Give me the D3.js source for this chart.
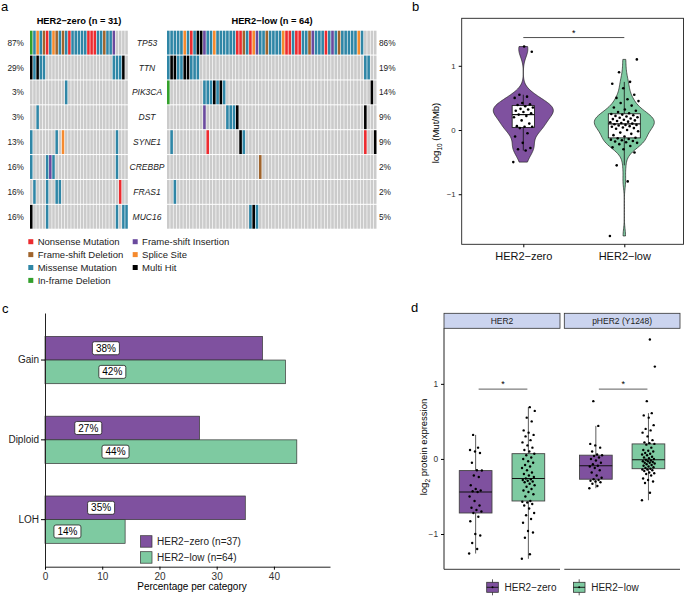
<!DOCTYPE html>
<html>
<head>
<meta charset="utf-8">
<script src="https://cdn.jsdelivr.net/npm/d3@7"></script>
<style>
body { margin: 0; background: #fff; }
svg { font-family: "Liberation Sans", Arial, sans-serif; }
</style>
</head>
<body>
<svg id="fig" width="685" height="596"></svg>
<script>
// panel a: oncoprint, one string per gene, one char per sample (spaces are only for counting)
var genes = ["TP53", "TTN", "PIK3CA", "DST", "SYNE1", "CREBBP", "FRAS1", "MUC16"];
var zeroPct = ["87%", "29%", "3%", "3%", "13%", "16%", "16%", "16%"];
var lowPct = ["86%", "19%", "14%", "9%", "9%", "2%", "2%", "5%"];
var zeroMut = [
  "IMPMDNMPDM DMNMMMMMNN NMMDMMS... .",
  "HMHMM..... .......... ......MMMH .",
  ".......... .M........ .......... .",
  "..M....... .......... .......... .",
  "M.......M. P......... .......M.. .",
  "M....MSM.. .......... .......M.. .",
  ".M...M..MM .......... ........N. .",
  "H....M.... .......... .......M.M M"
];
var lowMut = [
  "MMMMMPMNMH HSMMPMMMMM MNNDMNPSMM DMMMMPNNMN NMMDSMMMNM SMDMMMMMPM ....",
  "MHHMMHHMMM .......... .......... .......... .......... .......... MM..",
  "I......... .MMMHMHM.. .......... .......... .......... .......... ..H.",
  ".......... .S......MM MH........ .......... .......... .......... H...",
  ".M........ ..N....... ..HM...... .......... .......... .......... N..H",
  ".......... .......... ........D. .......... .......... .......... ....",
  "..M....... .......... .......... .......... .......... .......... ....",
  ".......... .......... .....MHM.. .......... .......... .......... ...."
];
var mutCodes = ["N", "D", "M", "I", "S", "P", "H"];
var mutNames = ["Nonsense Mutation", "Frame-shift Deletion", "Missense Mutation", "In-frame Deletion",
  "Frame-shift Insertion", "Splice Site", "Multi Hit"];
var mutColors = ["#ec2b2f", "#a0642c", "#2f86a6", "#33a02c", "#6a4a9e", "#f58a2e", "#000000"];

// panel b: log10 TMB per sample
var groups = ["HER2−zero", "HER2−low"];
var tmbZero = [-0.5, -0.32, -0.3, -0.28, -0.2, -0.1, -0.05, 0.03, 0.05, 0.05, 0.06, 0.1, 0.15, 0.2, 0.22,
  0.24, 0.26, 0.28, 0.3, 0.32, 0.33, 0.35, 0.37, 0.39, 0.4, 0.42, 0.5, 0.52, 0.55, 1.22, 1.3];
var tmbLow = [-1.65, -0.8, -0.55, -0.35, -0.3, -0.27, -0.25, -0.22, -0.2, -0.19, -0.18, -0.17, -0.16, -0.15, -0.14, -0.13,
  -0.12, -0.1, -0.08, -0.06, -0.04, -0.02, 0.0, 0.02, 0.03, 0.04, 0.05, 0.06, 0.07, 0.08, 0.08, 0.09,
  0.1, 0.11, 0.12, 0.13, 0.14, 0.15, 0.16, 0.17, 0.18, 0.19, 0.2, 0.21, 0.22, 0.23, 0.24, 0.25,
  0.26, 0.28, 0.3, 0.32, 0.35, 0.38, 0.42, 0.45, 0.48, 0.5, 0.55, 0.65, 0.72, 0.75, 0.9, 1.1];

// panel c: copy number categories (%)
var cnvCats = ["Gain", "Diploid", "LOH"];
var cnvZero = [38, 27, 35];
var cnvLow = [42, 44, 14];
var cnvLegend = ["HER2−zero (n=37)", "HER2−low (n=64)"];
var cnvTicks = [0, 10, 20, 30, 40];

// panel d: log2 protein expression
var facets = ["HER2", "pHER2 (Y1248)"];
var her2Zero = [-1.26, -1.2, -1.12, -1.02, -1.0, -0.83, -0.77, -0.72, -0.7, -0.68, -0.65, -0.62, -0.56, -0.5, -0.44,
  -0.43, -0.42, -0.4, -0.35, -0.24, -0.22, -0.155, -0.15, -0.05, 0.08, 0.1, 0.12, 0.15, 0.32];
var her2Low = [-1.33, -1.27, -1.05, -0.98, -0.96, -0.85, -0.8, -0.75, -0.72, -0.66, -0.62, -0.6, -0.58, -0.57, -0.56,
  -0.5, -0.47, -0.44, -0.42, -0.4, -0.37, -0.35, -0.33, -0.31, -0.3, -0.29, -0.28, -0.27, -0.26, -0.24,
  -0.22, -0.2, -0.18, -0.15, -0.12, -0.1, -0.08, -0.05, -0.03, 0.0, 0.02, 0.05, 0.07, 0.1, 0.12,
  0.15, 0.18, 0.22, 0.25, 0.3, 0.32, 0.35, 0.38, 0.5, 0.55, 0.64, 0.69];
var pher2Zero = [-0.39, -0.36, -0.33, -0.31, -0.3, -0.29, -0.28, -0.27, -0.25, -0.22, -0.18, -0.15, -0.12, -0.1, -0.09,
  -0.07, -0.05, -0.02, 0.0, 0.02, 0.04, 0.05, 0.06, 0.1, 0.15, 0.18, 0.2, 0.44, 0.77];
var pher2Low = [-0.55, -0.45, -0.32, -0.3, -0.28, -0.26, -0.22, -0.2, -0.19, -0.18, -0.16, -0.15, -0.14, -0.14, -0.13,
  -0.12, -0.11, -0.1, -0.09, -0.08, -0.07, -0.06, -0.05, -0.05, -0.04, -0.03, -0.03, -0.02, -0.01, 0.0,
  0.01, 0.02, 0.03, 0.05, 0.06, 0.07, 0.08, 0.1, 0.11, 0.12, 0.15, 0.19, 0.2, 0.21, 0.22, 0.25,
  0.3, 0.35, 0.38, 0.4, 0.45, 0.55, 0.58, 0.61, 0.77, 1.23, 1.59];

var purple = "#7f519f";
var green = "#7ecaa1";
var groupColor = d3.scaleOrdinal().domain(groups).range([purple, green]);

var svg = d3.select("#fig");

function translate(x, y) {
  return "translate(" + x + "," + y + ")";
}

function jitter(i, amp) {
  return (((i * 0.6180339) % 1) - 0.5) * 2 * amp;
}

function boxStats(v) {
  var q1 = d3.quantile(v, 0.25), med = d3.quantile(v, 0.5), q3 = d3.quantile(v, 0.75);
  var iqr = q3 - q1;
  return {
    q1: q1, med: med, q3: q3,
    lo: d3.min(v.filter(function(d) { return d >= q1 - 1.5 * iqr; })),
    hi: d3.max(v.filter(function(d) { return d <= q3 + 1.5 * iqr; }))
  };
}

function panelLabel(t, x, y) {
  svg.append("text").attr("x", x).attr("y", y).attr("font-size", 13).text(t);
}

// ---------------- panel a
panelLabel("a", 1, 11);

var rowScale = d3.scaleBand().domain(genes).range([30.7, 228.7]).paddingInner(0.04);

var drawGrid = function(muts, x0, x1) {
  var rows = muts.map(function(s) { return s.replace(/ /g, ""); });
  var n = rows[0].length;
  var colScale = d3.scaleBand().domain(d3.range(n)).range([x0, x1]).paddingInner(0.2);
  var cells = [];
  rows.forEach(function(r, gi) {
    for (var i = 0; i < n; i++) cells.push({ gene: genes[gi], col: i, code: r[i] });
  });
  svg.append("g").selectAll("rect")
    .data(cells)
    .enter()
    .append("rect")
    .attr("x", function(d) { return colScale(d.col); })
    .attr("y", function(d) { return rowScale(d.gene); })
    .attr("width", colScale.bandwidth())
    .attr("height", rowScale.bandwidth())
    .attr("fill", function(d) {
      var k = mutCodes.indexOf(d.code);
      return k < 0 ? "#cbcbcb" : mutColors[k];
    });
};

drawGrid(zeroMut, 30, 127.8);
drawGrid(lowMut, 167, 376.5);

svg.append("text").attr("x", 79).attr("y", 24).attr("text-anchor", "middle")
  .attr("font-size", 9.3).attr("font-weight", "bold").text("HER2−zero (n = 31)");
svg.append("text").attr("x", 272).attr("y", 24).attr("text-anchor", "middle")
  .attr("font-size", 9.3).attr("font-weight", "bold").text("HER2−low (n = 64)");

var rowLabels = svg.append("g").selectAll("g")
  .data(genes)
  .enter()
  .append("g")
  .attr("transform", function(d) { return translate(0, rowScale(d) + rowScale.bandwidth() / 2 + 3); });

rowLabels.append("text").attr("x", 24).attr("text-anchor", "end").attr("font-size", 8.3).attr("fill", "#222")
  .text(function(d, i) { return zeroPct[i]; });
rowLabels.append("text").attr("x", 147).attr("text-anchor", "middle").attr("font-size", 8.5)
  .attr("font-style", "italic").attr("fill", "#222").text(function(d) { return d; });
rowLabels.append("text").attr("x", 379).attr("font-size", 8.3).attr("fill", "#222")
  .text(function(d, i) { return lowPct[i]; });

var legA = svg.append("g").selectAll("g")
  .data(mutNames)
  .enter()
  .append("g")
  .attr("transform", function(d, i) {
    return translate(i < 4 ? 28.3 : 132.7, 241.7 + (i % 4) * 12.9);
  });
legA.append("rect").attr("y", -2.5).attr("width", 5).attr("height", 5)
  .attr("fill", function(d, i) { return mutColors[i]; });
legA.append("text").attr("x", 9.4).attr("y", 3.4).attr("font-size", 9.5).attr("fill", "#222")
  .text(function(d) { return d; });

// ---------------- panel b
panelLabel("b", 412, 11);

var bLeft = 461.7, bRight = 683.5, bTop = 18.3, bBottom = 244.3;
var tmbScale = d3.scaleLinear().domain([-1.78, 1.74]).range([bBottom, bTop]);
var bX = d3.scalePoint().domain(groups).range([523.3, 624.3]);

var drawViolin = function(vals, grp) {
  var cx = bX(grp);
  var sd = d3.deviation(vals);
  var iqr = d3.quantile(vals, 0.75) - d3.quantile(vals, 0.25);
  var bw = 0.9 * Math.min(sd, iqr / 1.34) * Math.pow(vals.length, -0.2);
  var lo = d3.min(vals), hi = d3.max(vals);
  var dens = d3.range(0, 121).map(function(k) {
    var y = lo + (hi - lo) * k / 120;
    var d = d3.mean(vals, function(v) { var u = (y - v) / bw; return Math.exp(-0.5 * u * u); });
    return [y, d];
  });
  var wScale = d3.scaleLinear().domain([0, d3.max(dens, function(d) { return d[1]; })]).range([0, 30]);
  var area = d3.area()
    .x0(function(d) { return cx - wScale(d[1]); })
    .x1(function(d) { return cx + wScale(d[1]); })
    .y(function(d) { return tmbScale(d[0]); });
  svg.append("path").datum(dens).attr("d", area)
    .attr("fill", groupColor(grp)).attr("stroke", "#222").attr("stroke-width", 0.7);

  var st = boxStats(vals);
  var bwid = 32 * Math.sqrt(vals.length / 64);
  var g = svg.append("g");
  g.append("line").attr("x1", cx).attr("x2", cx).attr("y1", tmbScale(st.lo)).attr("y2", tmbScale(st.hi))
    .attr("stroke", "#111").attr("stroke-width", 0.8);
  g.append("rect").attr("x", cx - bwid / 2).attr("width", bwid)
    .attr("y", tmbScale(st.q3)).attr("height", tmbScale(st.q1) - tmbScale(st.q3))
    .attr("fill", "#fff").attr("stroke", "#111").attr("stroke-width", 0.8);
  g.append("line").attr("x1", cx - bwid / 2).attr("x2", cx + bwid / 2)
    .attr("y1", tmbScale(st.med)).attr("y2", tmbScale(st.med))
    .attr("stroke", "#111").attr("stroke-width", 1.2);

  svg.append("g").selectAll("circle")
    .data(vals)
    .enter()
    .append("circle")
    .attr("cx", function(d, i) { return cx + jitter(i, bwid * 0.45); })
    .attr("cy", function(d) { return tmbScale(d); })
    .attr("r", 1.3)
    .attr("fill", "#000");
};

drawViolin(tmbZero, groups[0]);
drawViolin(tmbLow, groups[1]);

svg.append("rect").attr("x", bLeft).attr("y", bTop).attr("width", bRight - bLeft).attr("height", bBottom - bTop)
  .attr("fill", "none").attr("stroke", "#222").attr("stroke-width", 0.9);

var bYAxis = svg.append("g").attr("transform", translate(bLeft, 0))
  .call(d3.axisLeft(tmbScale).tickValues([-1, 0, 1]).tickSize(3).tickFormat(d3.format("d")));
bYAxis.select(".domain").remove();
bYAxis.selectAll("text").attr("font-size", 7.8).attr("fill", "#333").attr("font-family", null);

var bXAxis = svg.append("g").attr("transform", translate(0, bBottom))
  .call(d3.axisBottom(bX).tickSize(3).tickPadding(5));
bXAxis.select(".domain").remove();
bXAxis.selectAll("text").attr("font-size", 11).attr("fill", "#111").attr("font-family", null);

var bTitle = svg.append("text").attr("transform", "translate(439,133) rotate(-90)")
  .attr("text-anchor", "middle").attr("font-size", 9.5);
bTitle.append("tspan").text("log");
bTitle.append("tspan").attr("font-size", 6.5).attr("dy", 2.5).text("10");
bTitle.append("tspan").attr("dy", -2.5).text(" (Mut/Mb)");

svg.append("line").attr("x1", bX(groups[0])).attr("x2", bX(groups[1]))
  .attr("y1", tmbScale(1.44)).attr("y2", tmbScale(1.44)).attr("stroke", "#222").attr("stroke-width", 0.8);
svg.append("text").attr("x", (bX(groups[0]) + bX(groups[1])) / 2).attr("y", tmbScale(1.44) - 2)
  .attr("text-anchor", "middle").attr("font-size", 9).text("*");

// ---------------- panel c
panelLabel("c", 2, 313);

var cLeft = 45, cTop = 313, cBottom = 566.7;
var pctScale = d3.scaleLinear().domain([0, 49.8]).range([cLeft, 330]);
var catScale = d3.scaleBand().domain(cnvCats).range([cTop, cBottom]).paddingInner(0.407).paddingOuter(0.293);
var serScale = d3.scaleBand().domain(groups).range([0, catScale.bandwidth()]);

var cnvRows = [];
cnvCats.forEach(function(c, i) {
  cnvRows.push({ cat: c, grp: groups[0], value: cnvZero[i] });
  cnvRows.push({ cat: c, grp: groups[1], value: cnvLow[i] });
});

svg.append("g").selectAll("rect")
  .data(cnvRows)
  .enter()
  .append("rect")
  .attr("x", pctScale(0))
  .attr("y", function(d) { return catScale(d.cat) + serScale(d.grp); })
  .attr("width", function(d) { return pctScale(d.value) - pctScale(0); })
  .attr("height", serScale.bandwidth())
  .attr("fill", function(d) { return groupColor(d.grp); })
  .attr("stroke", "#333")
  .attr("stroke-width", 0.7);

var cLabels = svg.append("g").selectAll("g")
  .data(cnvRows)
  .enter()
  .append("g")
  .attr("transform", function(d) {
    return translate(pctScale(d.value * 0.28), catScale(d.cat) + serScale(d.grp) + serScale.bandwidth() / 2);
  });
cLabels.append("rect").attr("x", -13.5).attr("y", -6.5).attr("width", 27).attr("height", 13)
  .attr("rx", 2).attr("fill", "#fff").attr("stroke", "#222").attr("stroke-width", 0.8);
cLabels.append("text").attr("text-anchor", "middle").attr("y", 3.6).attr("font-size", 10)
  .text(function(d) { return d.value + "%"; });

var cXAxis = svg.append("g").attr("transform", translate(0, cBottom))
  .call(d3.axisBottom(pctScale).tickValues(cnvTicks).tickSize(3).tickSizeOuter(0));
cXAxis.select(".domain").attr("stroke", "#222");
cXAxis.selectAll("text").attr("font-size", 10).attr("fill", "#333").attr("font-family", null);

var cYAxis = svg.append("g").attr("transform", translate(cLeft, 0))
  .call(d3.axisLeft(catScale).tickSize(4).tickSizeOuter(0).tickPadding(2));
cYAxis.select(".domain").attr("stroke", "#222");
cYAxis.selectAll("text").attr("font-size", 10).attr("fill", "#222").attr("font-family", null);

svg.append("text").attr("x", 192).attr("y", 590).attr("text-anchor", "middle").attr("font-size", 10)
  .text("Percentage per category");

var legC = svg.append("g").selectAll("g")
  .data(cnvLegend)
  .enter()
  .append("g")
  .attr("transform", function(d, i) { return translate(140.5, 535.7 + i * 16); });
legC.append("rect").attr("width", 11.5).attr("height", 11.5)
  .attr("fill", function(d, i) { return groupColor(groups[i]); }).attr("stroke", "#333").attr("stroke-width", 0.7);
legC.append("text").attr("x", 16.5).attr("y", 9.5).attr("font-size", 10).attr("fill", "#222")
  .text(function(d) { return d; });

// ---------------- panel d
panelLabel("d", 411, 311.5);

var dTop = 328.3, dBottom = 569.3;
var protScale = d3.scaleLinear().domain([-1.47, 1.74]).range([dBottom, dTop]);
var facetRanges = [[444, 560], [564.3, 680]];
var protData = [[her2Zero, her2Low], [pher2Zero, pher2Low]];

facets.forEach(function(f, fi) {
  var r = facetRanges[fi];
  var fx = d3.scalePoint().domain(groups).range(r).padding(0.6);

  svg.append("rect").attr("x", r[0]).attr("y", 313.3).attr("width", r[1] - r[0]).attr("height", 15)
    .attr("fill", "#cbd4ef").attr("stroke", "#333").attr("stroke-width", 0.8);
  svg.append("text").attr("x", (r[0] + r[1]) / 2).attr("y", 324).attr("text-anchor", "middle")
    .attr("font-size", 8.5).attr("fill", "#222").text(f);

  svg.append("line").attr("x1", r[0]).attr("x2", r[1]).attr("y1", dBottom).attr("y2", dBottom)
    .attr("stroke", "#222").attr("stroke-width", 0.9);

  groups.forEach(function(grp, gi) {
    var vals = protData[fi][gi];
    var st = boxStats(vals);
    var cx = fx(grp);
    var bw = 32.7;
    svg.append("line").attr("x1", cx).attr("x2", cx).attr("y1", protScale(st.lo)).attr("y2", protScale(st.hi))
      .attr("stroke", "#333").attr("stroke-width", 0.8);
    svg.append("rect").attr("x", cx - bw / 2).attr("width", bw)
      .attr("y", protScale(st.q3)).attr("height", protScale(st.q1) - protScale(st.q3))
      .attr("fill", groupColor(grp)).attr("stroke", "#444").attr("stroke-width", 0.9);
    svg.append("line").attr("x1", cx - bw / 2).attr("x2", cx + bw / 2)
      .attr("y1", protScale(st.med)).attr("y2", protScale(st.med))
      .attr("stroke", "#111").attr("stroke-width", 1.1);
    svg.append("g").selectAll("circle")
      .data(vals)
      .enter()
      .append("circle")
      .attr("cx", function(d, i) { return cx + jitter(i, 6.5); })
      .attr("cy", function(d) { return protScale(d); })
      .attr("r", 1.2)
      .attr("fill", "#000");
  });

  svg.append("line").attr("x1", fx(groups[0]) + 3).attr("x2", fx(groups[1]) - 1)
    .attr("y1", protScale(0.93)).attr("y2", protScale(0.93)).attr("stroke", "#333").attr("stroke-width", 0.8);
  svg.append("text").attr("x", (fx(groups[0]) + fx(groups[1])) / 2 + 1).attr("y", protScale(0.93) - 2.5)
    .attr("text-anchor", "middle").attr("font-size", 9).text("*");
});

var dYAxis = svg.append("g").attr("transform", translate(444, 0))
  .call(d3.axisLeft(protScale).tickValues([-1, 0, 1]).tickSize(3).tickSizeOuter(0).tickFormat(d3.format("d")));
dYAxis.select(".domain").attr("d", "M0," + dTop + "V" + dBottom).attr("stroke", "#222");
dYAxis.selectAll("text").attr("font-size", 8.3).attr("fill", "#333").attr("font-family", null);

var dTitle = svg.append("text").attr("transform", "translate(427,447) rotate(-90)")
  .attr("text-anchor", "middle").attr("font-size", 9.5);
dTitle.append("tspan").text("log");
dTitle.append("tspan").attr("font-size", 6.5).attr("dy", 2.5).text("2");
dTitle.append("tspan").attr("dy", -2.5).text(" protein expression");

var legD = svg.append("g").selectAll("g")
  .data(groups)
  .enter()
  .append("g")
  .attr("transform", function(d, i) { return translate(i === 0 ? 492.5 : 579.2, 587.3); });
legD.append("line").attr("y1", -8).attr("y2", 8).attr("stroke", "#333").attr("stroke-width", 0.8);
legD.append("rect").attr("x", -5.8).attr("y", -5).attr("width", 11.6).attr("height", 10)
  .attr("fill", function(d) { return groupColor(d); }).attr("stroke", "#333").attr("stroke-width", 0.8);
legD.append("line").attr("x1", -5.8).attr("x2", 5.8).attr("stroke", "#111").attr("stroke-width", 0.9);
legD.append("circle").attr("r", 1).attr("fill", "#000");
legD.append("text").attr("x", 12).attr("y", 3.6).attr("font-size", 10).attr("fill", "#222")
  .text(function(d) { return d; });
</script>
</body>
</html>
